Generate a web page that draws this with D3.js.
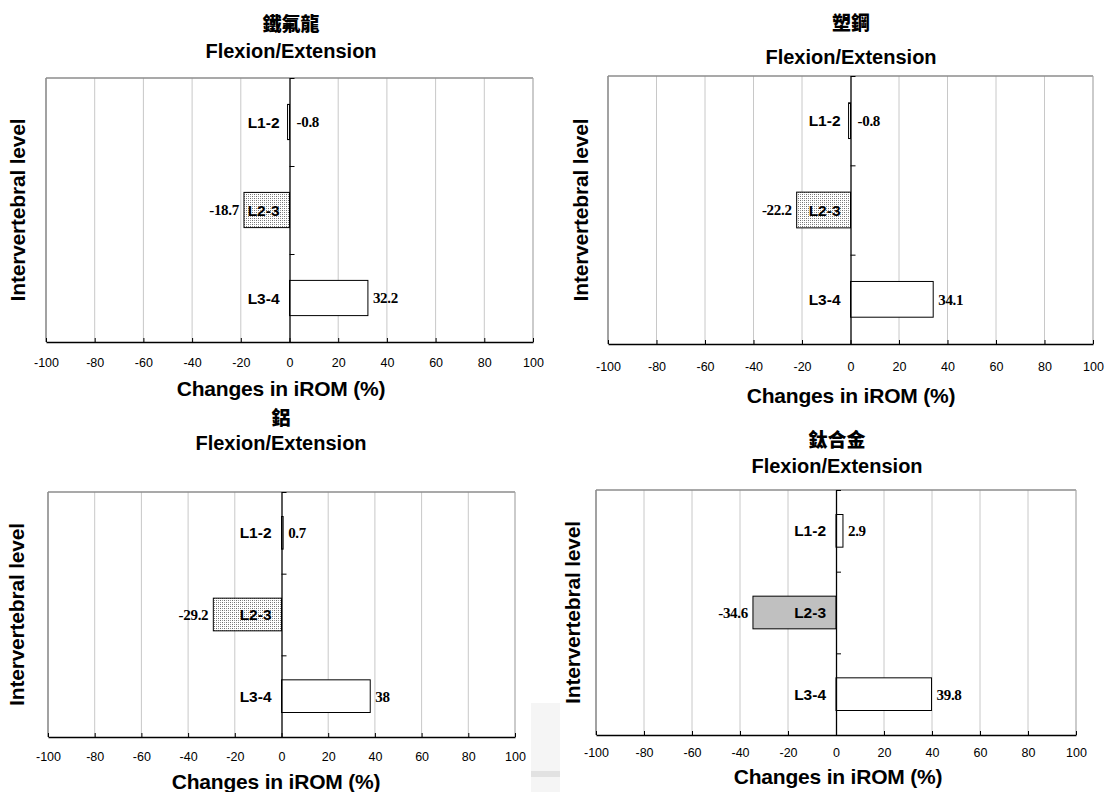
<!DOCTYPE html>
<html>
<head>
<meta charset="utf-8">
<script src="https://cdn.jsdelivr.net/npm/d3@7/dist/d3.min.js"></script>
<style>
  html, body { margin: 0; padding: 0; background: #fff; }
  svg { display: block; }
  .tick-label { font-family: "Liberation Sans", Arial, sans-serif; font-size: 12.5px; fill: #000; }
  .cat-label { font-family: "Liberation Sans", Arial, sans-serif; font-size: 15.5px; font-weight: bold; fill: #000; }
  .val-label { font-family: "Liberation Serif", "Times New Roman", serif; font-size: 15px; font-weight: bold; fill: #000; letter-spacing: -0.3px; }
  .title-zh { font-family: "Noto Sans CJK TC", sans-serif; font-size: 19px; font-weight: 900; fill: #000; }
  .title-en { font-family: "Liberation Sans", Arial, sans-serif; font-size: 20px; font-weight: bold; fill: #000; }
  .axis-title { font-family: "Liberation Sans", Arial, sans-serif; font-size: 21px; font-weight: bold; fill: #000; letter-spacing: -0.2px; }
</style>
</head>
<body>
<svg id="chart" width="1105" height="792"></svg>
<script>
// Intervertebral levels (rows of every panel)
const categories = ["L1-2", "L2-3", "L3-4"];
// Implant materials, one panel each
const materials = ["鐵氟龍", "塑鋼", "鋁", "鈦合金"];
const motion = "Flexion/Extension";
// Changes in iROM (%) per level
const teflonValues   = [-0.8, -18.7, 32.2];
const steelValues    = [-0.8, -22.2, 34.1];
const aluminumValues = [0.7, -29.2, 38];
const titaniumValues = [2.9, -34.6, 39.8];
// x-axis tick values
const xTicks = [-100, -80, -60, -40, -20, 0, 20, 40, 60, 80, 100];
const xDomain = [-100, 100];
const xTitle = "Changes in iROM (%)";
const yTitle = "Intervertebral level";

const svg = d3.select("#chart");

// Stippled fill used for the L2-3 bars
const defs = svg.append("defs");
const pat = defs.append("pattern").attr("id", "stipple")
  .attr("patternUnits", "userSpaceOnUse").attr("width", 4).attr("height", 4);
pat.append("rect").attr("width", 4).attr("height", 4).attr("fill", "#fff");
[[0, 0], [2, 2], [2, 0], [0, 2]].forEach(([px, py], i) => {
  pat.append("rect").attr("x", px).attr("y", py).attr("width", 1).attr("height", 1)
    .attr("fill", i < 2 ? "#6e6e6e" : "#9a9a9a");
});

// Panel frames
const panels = [
  { values: teflonValues, name: materials[0], left: 46, right: 533, top: 78, bottom: 342,
    zhY: 31, enY: 58, titleX: 291, tickY: 367, xTitleX: 281, xTitleY: 396, yTitleX: 25, midFill: "url(#stipple)" },
  { values: steelValues, name: materials[1], left: 608, right: 1093, top: 76, bottom: 344,
    zhY: 30, enY: 64, titleX: 851, tickY: 371, xTitleX: 851, xTitleY: 403, yTitleX: 588, midFill: "url(#stipple)" },
  { values: aluminumValues, name: materials[2], left: 48, right: 515, top: 492, bottom: 737,
    zhY: 425, enY: 450, titleX: 281, tickY: 761, xTitleX: 276, xTitleY: 789, yTitleX: 24, midFill: "url(#stipple)" },
  { values: titaniumValues, name: materials[3], left: 596, right: 1076, top: 490, bottom: 735,
    zhY: 447, enY: 473, titleX: 837, tickY: 757, xTitleX: 838, xTitleY: 784, yTitleX: 580, midFill: "#c0c0c0" }
];

// faint scanned strip near the lower middle edge
svg.append("rect").attr("x", 531).attr("y", 703).attr("width", 29).attr("height", 89).attr("fill", "#f5f5f5");
svg.append("rect").attr("x", 531).attr("y", 771).attr("width", 29).attr("height", 6).attr("fill", "#e2e2e2");

panels.forEach(p => {
  const g = svg.append("g");
  const x = d3.scaleLinear().domain(xDomain).range([p.left, p.right]);
  const y = d3.scaleBand().domain(categories).range([p.top, p.bottom])
    .paddingInner(0.6).paddingOuter(0.3);
  const bounds = d3.scaleLinear().domain([0, categories.length]).range([p.top, p.bottom]);

  // vertical gridlines
  g.selectAll("line.grid").data(xTicks.filter(t => t !== 0 && t !== 100)).join("line")
    .attr("class", "grid")
    .attr("x1", d => x(d)).attr("x2", d => x(d))
    .attr("y1", p.top).attr("y2", p.bottom)
    .attr("stroke", "#c8c8c8").attr("stroke-width", 1);

  // frame: top / left / right
  g.append("line").attr("x1", p.left).attr("x2", p.right).attr("y1", p.top).attr("y2", p.top)
    .attr("stroke", "#8c8c8c").attr("stroke-width", 1.5);
  g.append("line").attr("x1", p.left).attr("x2", p.left).attr("y1", p.top).attr("y2", p.bottom)
    .attr("stroke", "#8c8c8c").attr("stroke-width", 1.5);
  g.append("line").attr("x1", p.right).attr("x2", p.right).attr("y1", p.top).attr("y2", p.bottom)
    .attr("stroke", "#a8a8a8").attr("stroke-width", 1.2);

  // bars
  g.selectAll("rect.bar").data(categories).join("rect")
    .attr("class", "bar")
    .attr("x", (c, i) => Math.min(x(0), x(p.values[i])))
    .attr("width", (c, i) => Math.max(1.5, Math.abs(x(p.values[i]) - x(0))))
    .attr("y", c => y(c))
    .attr("height", y.bandwidth())
    .attr("fill", (c, i) => i === 1 ? p.midFill : "#fff")
    .attr("stroke", "#000").attr("stroke-width", 1);

  // bottom axis
  const xAxis = d3.axisBottom(x).tickValues(xTicks).tickSize(-4).tickSizeOuter(0).tickPadding(0)
    .tickFormat(d3.format("d"));
  const ax = g.append("g").attr("transform", `translate(0,${p.bottom})`).call(xAxis);
  ax.select(".domain").attr("stroke", "#000").attr("stroke-width", 1.5);
  ax.selectAll(".tick line").attr("stroke", "#000");
  ax.selectAll(".tick text").attr("class", "tick-label")
    .attr("y", p.tickY - p.bottom).attr("dy", null)
    .text(d => d < 0 ? "-" + Math.abs(d) : d);

  // zero axis with row-boundary ticks
  const yAxis = d3.axisRight(bounds).tickValues(d3.range(categories.length + 1))
    .tickSize(5).tickSizeOuter(0).tickFormat("");
  const ay = g.append("g").attr("transform", `translate(${x(0)},0)`).call(yAxis);
  ay.select(".domain").attr("stroke", "#000").attr("stroke-width", 1.3);
  ay.selectAll(".tick line").attr("stroke", "#000");

  // level labels, right-aligned against the zero axis
  g.selectAll("text.cat").data(categories).join("text")
    .attr("class", "cat-label")
    .attr("x", x(0) - 10)
    .attr("y", c => y(c) + y.bandwidth() / 2)
    .attr("dy", "0.36em")
    .attr("text-anchor", "end")
    .text(c => c);

  // value labels
  g.selectAll("text.val").data(categories).join("text")
    .attr("class", "val-label")
    .attr("x", (c, i) => {
      const v = p.values[i];
      if (v >= 0) return x(v) + 5;
      if (v > -5) return x(0) + 7;
      return x(v) - 5;
    })
    .attr("text-anchor", (c, i) => (p.values[i] <= -5 ? "end" : "start"))
    .attr("y", c => y(c) + y.bandwidth() / 2)
    .attr("dy", "0.36em")
    .text((c, i) => p.values[i]);

  // titles
  g.append("text").attr("class", "title-zh").attr("x", p.titleX).attr("y", p.zhY)
    .attr("text-anchor", "middle").text(p.name);
  g.append("text").attr("class", "title-en").attr("x", p.titleX).attr("y", p.enY)
    .attr("text-anchor", "middle").text(motion);
  g.append("text").attr("class", "axis-title").attr("x", p.xTitleX).attr("y", p.xTitleY)
    .attr("text-anchor", "middle").text(xTitle);
  g.append("text").attr("class", "axis-title")
    .attr("transform", `translate(${p.yTitleX},${(p.top + p.bottom) / 2}) rotate(-90)`)
    .attr("text-anchor", "middle").text(yTitle);
});
</script>
</body>
</html>
